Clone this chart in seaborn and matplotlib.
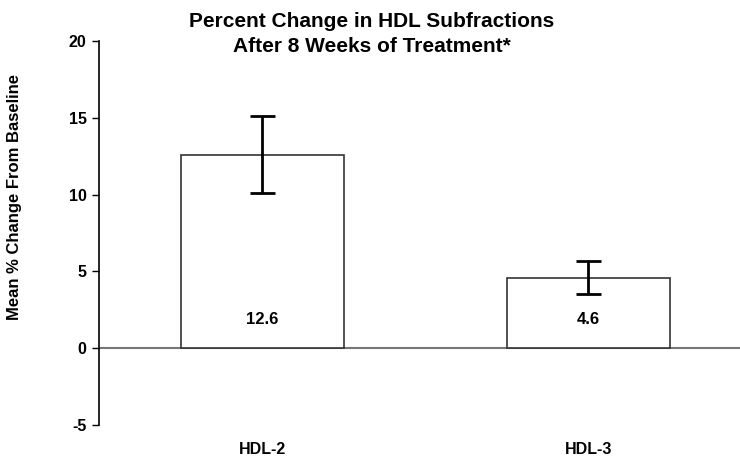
import matplotlib
matplotlib.use("Agg")
import matplotlib.pyplot as plt
import seaborn as sns
import pandas as pd
from matplotlib import font_manager

categories = ["HDL-2", "HDL-3"]
values = [12.6, 4.6]
errors = [2.5, 1.1]
value_labels = ["12.6", "4.6"]
yticks = [-5, 0, 5, 10, 15, 20]
title = "Percent Change in HDL Subfractions\nAfter 8 Weeks of Treatment*"
ylabel = "Mean % Change From Baseline"

sns.set_theme(style="white")
names = {f.name for f in font_manager.fontManager.ttflist}
fam = "Liberation Sans Narrow" if "Liberation Sans Narrow" in names else "Liberation Sans"
plt.rcParams['font.family'] = [fam, 'DejaVu Sans']
plt.rcParams['text.color'] = 'black'
plt.rcParams['xtick.color'] = 'black'
plt.rcParams['ytick.color'] = 'black'

df = pd.DataFrame({"cat": categories, "val": values})

fig = plt.figure(figsize=(7.4, 4.65), dpi=100)
ax = fig.add_axes([99/740, 1 - 425/465, 1 - 99/740, (425 - 41)/465])

sns.barplot(data=df, x="cat", y="val", ax=ax, color="white", edgecolor="#333333",
            linewidth=1.2, width=0.5, errorbar=None)
ax.errorbar(range(len(categories)), values, yerr=errors, fmt="none",
            ecolor="black", elinewidth=2.0, capsize=9, capthick=2.0, zorder=5)

for i, lab in enumerate(value_labels):
    ax.text(i, 1.9, lab, ha="center", va="center", fontsize=12, fontweight="bold", color="black")

ax.axhline(0, color="#777777", linewidth=1.5, zorder=0.5)
ax.set_xlim(-0.5, 1.466)
ax.set_ylim(-5, 20)
ax.set_yticks(yticks)
ax.set_yticklabels([str(t) for t in yticks], fontsize=11.5, fontweight="bold")
ax.tick_params(axis="y", left=True, length=5, width=1, color="black", pad=4)
ax.set_xticks(range(len(categories)))
ax.set_xticklabels(categories, fontweight="bold")
ax.tick_params(axis="x", bottom=False, labelsize=11.5, pad=6)
ax.set_xlabel("")
ax.set_ylabel("")
for s in ["top", "right", "bottom"]:
    ax.spines[s].set_visible(False)
ax.spines["left"].set_color("black")
ax.spines["left"].set_linewidth(1.2)

fig.text(15/740, 1 - 197/465, ylabel, rotation=90, ha="center", va="center",
         fontsize=12, fontweight="bold")
fig.text(372/740, 1 - 34/465, title, ha="center", va="center", fontsize=15,
         fontweight="bold", linespacing=1.45)

fig.savefig("out.png", dpi=100, facecolor="white")
